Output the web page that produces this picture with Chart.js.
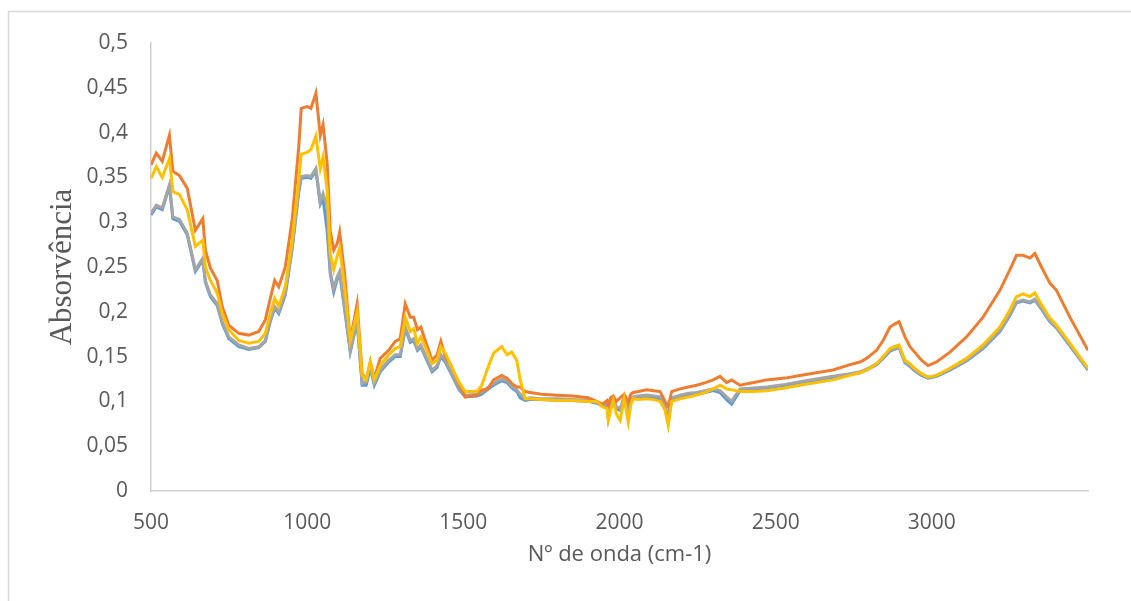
<!DOCTYPE html>
<html>
<head>
<meta charset="utf-8">
<script src="https://cdn.jsdelivr.net/npm/chart.js@4"></script>
<style>
	body { margin: 0; background: #fff; }
	canvas { display: block; }
</style>
</head>
<body>
<canvas id="chart" width="1131" height="601"></canvas>
<script>
const waveNumbers = [
	500, 517, 536, 559, 570, 591, 616, 642, 666, 674,
	690, 712, 728, 749, 781, 813, 845, 866, 882, 896,
	909, 930, 952, 973, 981, 1000, 1012, 1028, 1042, 1051,
	1064, 1074, 1085, 1096, 1104, 1120, 1138, 1160, 1176, 1189,
	1202, 1215, 1234, 1261, 1282, 1298, 1314, 1330, 1341, 1353,
	1364, 1378, 1400, 1416, 1428, 1442, 1458, 1485, 1506, 1544,
	1559, 1576, 1597, 1623, 1640, 1655, 1671, 1682, 1698, 1714,
	1750, 1800, 1850, 1900, 1927, 1945, 1960, 1964, 1972, 1980,
	1990, 2002, 2015, 2028, 2036, 2044, 2060, 2087, 2110, 2130,
	2146, 2156, 2167, 2194, 2220, 2247, 2275, 2300, 2322, 2343,
	2359, 2372, 2386, 2430, 2471, 2530, 2578, 2630, 2684, 2738,
	2770, 2791, 2823, 2844, 2866, 2880, 2895, 2914, 2930, 2945,
	2967, 2988, 3015, 3058, 3111, 3164, 3218, 3250, 3271, 3292,
	3314, 3330, 3351, 3378, 3399, 3442, 3500,
];

const seriesBlue = [
	0.308, 0.317, 0.314, 0.340, 0.304, 0.301, 0.286, 0.245, 0.258, 0.233,
	0.217, 0.207, 0.187, 0.170, 0.161, 0.158, 0.160, 0.167, 0.189, 0.204,
	0.198, 0.219, 0.270, 0.333, 0.349, 0.350, 0.349, 0.357, 0.320, 0.326,
	0.290, 0.242, 0.222, 0.236, 0.243, 0.202, 0.155, 0.189, 0.118, 0.118,
	0.137, 0.118, 0.133, 0.144, 0.150, 0.150, 0.181, 0.166, 0.168, 0.157,
	0.161, 0.150, 0.133, 0.138, 0.150, 0.144, 0.133, 0.114, 0.105, 0.106,
	0.108, 0.113, 0.118, 0.123, 0.121, 0.115, 0.111, 0.104, 0.101, 0.102,
	0.102, 0.101, 0.101, 0.100, 0.098, 0.095, 0.096, 0.083, 0.100, 0.101,
	0.092, 0.090, 0.103, 0.088, 0.101, 0.103, 0.104, 0.105, 0.104, 0.103,
	0.093, 0.080, 0.102, 0.105, 0.107, 0.108, 0.110, 0.112, 0.110, 0.102,
	0.097, 0.104, 0.112, 0.114, 0.115, 0.118, 0.121, 0.124, 0.127, 0.130,
	0.132, 0.135, 0.141, 0.148, 0.156, 0.158, 0.160, 0.143, 0.139, 0.134,
	0.129, 0.126, 0.128, 0.135, 0.145, 0.159, 0.178, 0.196, 0.210, 0.212,
	0.210, 0.213, 0.203, 0.189, 0.182, 0.162, 0.135,
];

const seriesOrange = [
	0.364, 0.377, 0.368, 0.397, 0.357, 0.352, 0.338, 0.291, 0.304, 0.269,
	0.249, 0.235, 0.206, 0.185, 0.176, 0.174, 0.178, 0.191, 0.215, 0.235,
	0.228, 0.250, 0.303, 0.384, 0.427, 0.429, 0.427, 0.444, 0.397, 0.409,
	0.366, 0.290, 0.269, 0.276, 0.289, 0.242, 0.168, 0.209, 0.131, 0.124,
	0.144, 0.126, 0.148, 0.157, 0.167, 0.170, 0.209, 0.194, 0.194, 0.180,
	0.183, 0.168, 0.146, 0.152, 0.167, 0.150, 0.142, 0.120, 0.105, 0.107,
	0.113, 0.113, 0.124, 0.129, 0.126, 0.120, 0.116, 0.116, 0.111, 0.110,
	0.108, 0.107, 0.106, 0.104, 0.100, 0.097, 0.101, 0.096, 0.104, 0.106,
	0.100, 0.104, 0.108, 0.099, 0.108, 0.110, 0.111, 0.113, 0.112, 0.111,
	0.100, 0.094, 0.111, 0.114, 0.116, 0.118, 0.121, 0.124, 0.128, 0.121,
	0.124, 0.121, 0.118, 0.121, 0.124, 0.126, 0.129, 0.132, 0.135, 0.141,
	0.144, 0.148, 0.157, 0.168, 0.183, 0.186, 0.189, 0.172, 0.161, 0.155,
	0.146, 0.140, 0.144, 0.155, 0.172, 0.194, 0.224, 0.247, 0.263, 0.263,
	0.260, 0.265, 0.250, 0.232, 0.224, 0.194, 0.157,
];

const seriesGray = [
	0.310, 0.319, 0.316, 0.342, 0.306, 0.303, 0.288, 0.247, 0.260, 0.235,
	0.219, 0.209, 0.189, 0.172, 0.163, 0.159, 0.161, 0.168, 0.191, 0.206,
	0.200, 0.221, 0.273, 0.336, 0.351, 0.352, 0.351, 0.360, 0.323, 0.332,
	0.317, 0.245, 0.226, 0.239, 0.245, 0.205, 0.157, 0.191, 0.120, 0.122,
	0.140, 0.120, 0.135, 0.146, 0.152, 0.152, 0.183, 0.168, 0.170, 0.159,
	0.163, 0.152, 0.135, 0.140, 0.152, 0.146, 0.135, 0.116, 0.107, 0.108,
	0.110, 0.115, 0.120, 0.125, 0.123, 0.117, 0.113, 0.108, 0.103, 0.104,
	0.103, 0.103, 0.102, 0.101, 0.099, 0.096, 0.098, 0.085, 0.102, 0.103,
	0.094, 0.092, 0.105, 0.090, 0.103, 0.105, 0.106, 0.107, 0.106, 0.105,
	0.095, 0.082, 0.104, 0.107, 0.109, 0.110, 0.112, 0.114, 0.112, 0.105,
	0.100, 0.107, 0.114, 0.115, 0.116, 0.119, 0.122, 0.125, 0.128, 0.131,
	0.133, 0.136, 0.142, 0.149, 0.157, 0.159, 0.161, 0.144, 0.140, 0.135,
	0.130, 0.127, 0.129, 0.136, 0.146, 0.160, 0.179, 0.197, 0.211, 0.213,
	0.211, 0.214, 0.204, 0.190, 0.183, 0.163, 0.136,
];

const seriesYellow = [
	0.349, 0.362, 0.350, 0.371, 0.334, 0.331, 0.314, 0.273, 0.280, 0.250,
	0.235, 0.221, 0.198, 0.180, 0.168, 0.165, 0.167, 0.176, 0.198, 0.215,
	0.206, 0.228, 0.280, 0.347, 0.376, 0.378, 0.381, 0.396, 0.360, 0.373,
	0.336, 0.265, 0.247, 0.262, 0.271, 0.228, 0.167, 0.200, 0.129, 0.124,
	0.144, 0.124, 0.140, 0.152, 0.159, 0.161, 0.194, 0.178, 0.181, 0.165,
	0.172, 0.161, 0.142, 0.146, 0.161, 0.154, 0.142, 0.122, 0.111, 0.111,
	0.118, 0.135, 0.154, 0.161, 0.152, 0.155, 0.146, 0.124, 0.103, 0.103,
	0.102, 0.101, 0.101, 0.100, 0.100, 0.094, 0.092, 0.079, 0.090, 0.101,
	0.086, 0.079, 0.103, 0.077, 0.096, 0.103, 0.102, 0.103, 0.102, 0.100,
	0.090, 0.073, 0.100, 0.103, 0.105, 0.107, 0.110, 0.114, 0.118, 0.114,
	0.113, 0.112, 0.111, 0.111, 0.112, 0.115, 0.118, 0.121, 0.124, 0.129,
	0.132, 0.135, 0.142, 0.150, 0.159, 0.161, 0.163, 0.146, 0.142, 0.137,
	0.131, 0.127, 0.129, 0.137, 0.148, 0.163, 0.183, 0.202, 0.217, 0.220,
	0.217, 0.221, 0.208, 0.193, 0.185, 0.165, 0.137,
];

const xTicks = [500, 1000, 1500, 2000, 2500, 3000];

// light frame around the chart area, like the spreadsheet export
const chartFrame = {
	id: 'chartFrame',
	beforeDraw(chart) {
		const ctx = chart.ctx;
		ctx.save();
		ctx.strokeStyle = '#d9d9d9';
		ctx.lineWidth = 1.5;
		ctx.strokeRect(8.5, 11.5, 1200, 700);
		ctx.restore();
	},
};

function toPoints(values) {
	return waveNumbers.map((x, i) => ({ x: x, y: values[i] }));
}

function makeDataset(label, values, color, order) {
	return {
		label: label,
		data: toPoints(values),
		borderColor: color,
		borderWidth: 3,
		pointRadius: 0,
		tension: 0,
		fill: false,
		order: order,
	};
}

function createChart() {
	const ctx = document.getElementById('chart').getContext('2d');
	const tickColor = '#595959';
	const axisColor = '#cfcfcf';

	new Chart(ctx, {
		type: 'line',
		data: {
			datasets: [
				makeDataset('Amostra 1', seriesBlue, '#5b9bd5', 4),
				makeDataset('Amostra 2', seriesOrange, '#ed7d31', 2),
				makeDataset('Amostra 3', seriesGray, '#a5a5a5', 3),
				makeDataset('Amostra 4', seriesYellow, '#ffc000', 1),
			],
		},
		plugins: [chartFrame],
		options: {
			responsive: false,
			animation: false,
			layout: {
				padding: { top: 43, right: 43, bottom: 0, left: 0 },
			},
			plugins: {
				legend: { display: false },
				tooltip: { enabled: false },
			},
			scales: {
				x: {
					type: 'linear',
					min: 500,
					max: 3500,
					afterFit: (scale) => {
						scale.height = 110;
					},
					afterBuildTicks: (scale) => {
						scale.ticks = xTicks.map((v) => ({ value: v }));
					},
					grid: { display: false, drawTicks: false },
					border: { display: true, color: axisColor, width: 1.5 },
					ticks: {
						color: tickColor,
						padding: 19,
						maxRotation: 0,
						autoSkip: false,
						font: { family: 'Open Sans', size: 21 },
						callback: (value) => String(value),
					},
					title: {
						display: true,
						text: 'Nº de onda (cm-1)',
						color: tickColor,
						padding: { top: 0, bottom: 33 },
						font: { family: 'Open Sans', size: 22 },
					},
				},
				y: {
					min: 0,
					max: 0.5,
					afterFit: (scale) => {
						scale.width = 151;
					},
					grid: { display: false, drawTicks: false },
					border: { display: true, color: axisColor, width: 1.5 },
					ticks: {
						stepSize: 0.05,
						color: tickColor,
						padding: 23,
						font: { family: 'Open Sans', size: 21 },
						callback: (value) => String(Number(value.toFixed(2))).replace('.', ','),
					},
					title: {
						display: true,
						text: 'Absorvência',
						color: tickColor,
						padding: { top: 44, bottom: 0 },
						font: { family: 'Liberation Serif', size: 31 },
					},
				},
			},
		},
	});
}

document.addEventListener('DOMContentLoaded', createChart);
</script>
</body>
</html>
